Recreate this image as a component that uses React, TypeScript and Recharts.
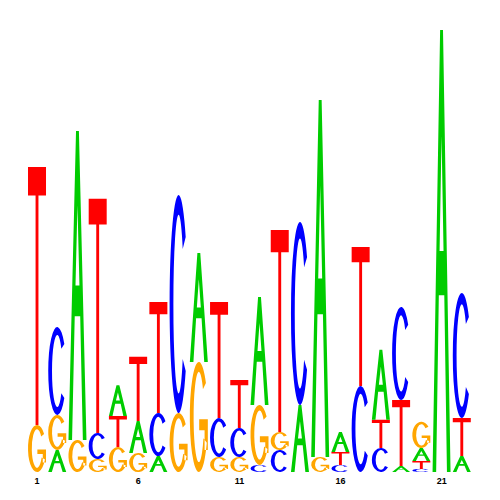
import React from 'react';
import { BarChart, Bar, XAxis, YAxis } from 'recharts';

const positions = [1, 2, 3, 4, 5, 6, 7, 8, 9, 10, 11, 12, 13, 14, 15, 16, 17, 18, 19, 20, 21, 22];

// letters of each column, bottom to top
const stacks = [
  'GT', 'AGC', 'GA', 'GCT', 'GTA', 'GAT', 'ACT', 'GC', 'GA', 'GCT', 'GCT',
  'CGA', 'CGT', 'AC', 'GA', 'CTA', 'CT', 'CTA', 'ATC', 'CTAG', 'A', 'ATC',
];

// heights (bits) of each letter, bottom to top
const heights = [
  [0.213, 1.167],
  [0.1, 0.158, 0.398],
  [0.145, 1.398],
  [0.059, 0.118, 1.059],
  [0.113, 0.14, 0.14],
  [0.086, 0.145, 0.29],
  [0.072, 0.195, 0.502],
  [0.267, 0.986],
  [0.498, 0.493],
  [0.068, 0.176, 0.525],
  [0.068, 0.131, 0.217],
  [0.032, 0.271, 0.489],
  [0.1, 0.081, 0.914],
  [0.303, 0.828],
  [0.068, 1.615],
  [0.032, 0.059, 0.09],
  [0.389, 0.629],
  [0.109, 0.127, 0.317],
  [0.027, 0.299, 0.421],
  [0.014, 0.036, 0.059, 0.118],
  [2.0],
  [0.072, 0.172, 0.566],
];

const tickLabels = ['1', '6', '11', '16', '21'];

const letterColors: Record<string, string> = {
  A: '#00CC00',
  C: '#0000FF',
  G: '#FFA500',
  T: '#FF0000',
};

const levels = [0, 1, 2, 3];

const data = positions.map((p, i) => {
  const row: any = { pos: String(p), letters: stacks[i] };
  levels.forEach((k) => {
    row['l' + k] = heights[i][k] ?? 0;
  });
  return row;
});

function ring(x: number, y: number, w: number, h: number, a1: number, a2: number) {
  const cx = x + w / 2;
  const cy = y + h / 2;
  const rx = w / 2;
  const ry = h / 2;
  const irx = rx * 0.58;
  const iry = ry * 0.82;
  const r1 = (a1 * Math.PI) / 180;
  const r2 = (a2 * Math.PI) / 180;
  const p = (ax: number, ay: number, r: number) => `${cx + ax * Math.cos(r)},${cy + ay * Math.sin(r)}`;
  return (
    `M${p(rx, ry, r1)} A${rx},${ry} 0 1 0 ${p(rx, ry, r2)} ` +
    `L${p(irx, iry, r2)} A${irx},${iry} 0 1 1 ${p(irx, iry, r1)} Z `
  );
}

function rect(x: number, y: number, w: number, h: number) {
  return `M${x},${y} L${x + w},${y} L${x + w},${y + h} L${x},${y + h} Z `;
}

function glyphPath(letter: string, x: number, y: number, w: number, h: number) {
  if (letter === 'T') {
    const bar = Math.max(h * 0.11, 1.5);
    return rect(x, y, w, bar) + rect(x + w * 0.42, y, w * 0.16, h);
  }
  if (letter === 'C') {
    return ring(x, y, w, h, -38, 38);
  }
  if (letter === 'G') {
    return (
      ring(x, y, w, h, -38, 28) +
      rect(x + w * 0.52, y + h * 0.52, w * 0.48, h * 0.1) +
      rect(x + w * 0.82, y + h * 0.52, w * 0.18, h * 0.28)
    );
  }
  // A
  const X = (fx: number) => x + fx * w;
  const Y = (fy: number) => y + fy * h;
  const outer =
    `M${X(0)},${Y(1)} L${X(0.42)},${Y(0)} L${X(0.58)},${Y(0)} L${X(1)},${Y(1)} ` +
    `L${X(0.8)},${Y(1)} L${X(0.652)},${Y(0.6)} L${X(0.348)},${Y(0.6)} L${X(0.2)},${Y(1)} Z`;
  const hole = `M${X(0.5)},${Y(0.24)} L${X(0.61)},${Y(0.5)} L${X(0.39)},${Y(0.5)} Z`;
  return outer + ' ' + hole;
}

const makeShape = (k: number) => (props: any) => {
  const { x, y, width, height, payload } = props;
  const letter = payload && payload.letters ? payload.letters[k] : undefined;
  if (!letter || !height || height <= 0) return <g />;
  return (
    <path
      d={glyphPath(letter, x, y, width, height)}
      fill={letterColors[letter]}
      fillRule={letter === 'A' ? 'evenodd' : 'nonzero'}
      stroke="none"
    />
  );
};

export default function App() {
  return (
    <div style={{ position: 'absolute', left: 0, top: 0, background: '#fff' }}>
      <BarChart
        width={500}
        height={500}
        data={data}
        margin={{ top: 30, right: 28, bottom: 8, left: 27 }}
        barCategoryGap="5%"
      >
        <XAxis
          dataKey="pos"
          interval={4}
          tickLine={false}
          axisLine={false}
          height={20}
          tickSize={4}
          tickFormatter={(v: string) => (tickLabels.includes(v) ? v : '')}
          tick={{ fontSize: 9, fontWeight: 'bold', fill: '#000', fontFamily: 'Liberation Sans, Arial, sans-serif' }}
        />
        <YAxis hide domain={[0, 2]} />
        {levels.map((k) => (
          <Bar key={k} dataKey={'l' + k} stackId="s" isAnimationActive={false} shape={makeShape(k)} />
        ))}
      </BarChart>
    </div>
  );
}
